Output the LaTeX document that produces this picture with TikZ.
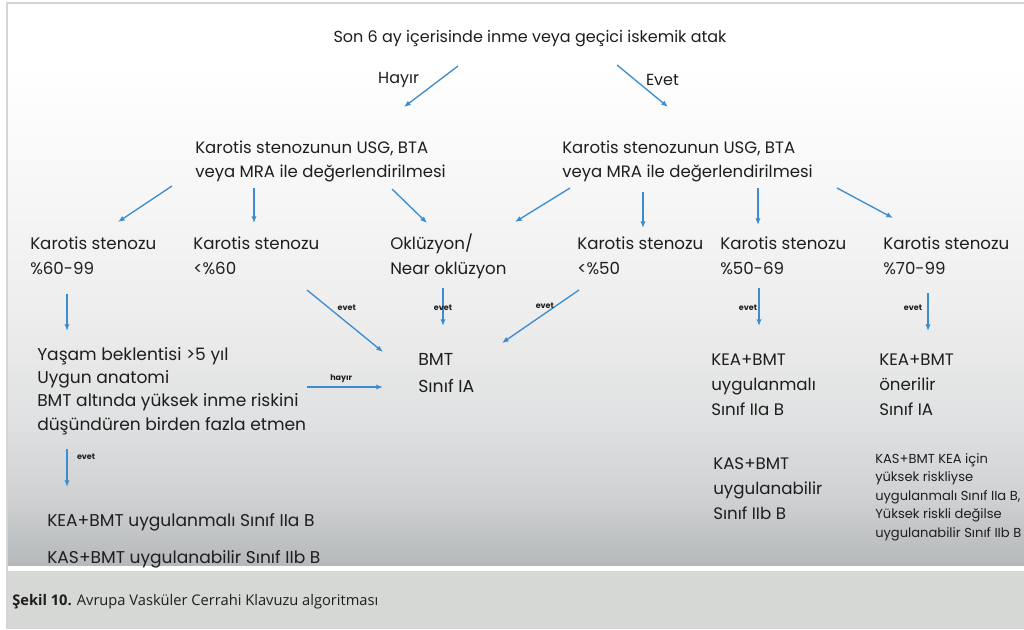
\documentclass[tikz,border=0pt]{standalone}
\usepackage{fontspec}
\setmainfont{Poppins}
\newfontfamily\capfont{Open Sans}
\usetikzlibrary{arrows.meta,calc}

\definecolor{arrowblue}{RGB}{60,141,208}
\definecolor{inkblack}{RGB}{30,30,30}
\definecolor{framegray}{RGB}{212,212,212}
\definecolor{capgray}{RGB}{214,216,213}
\definecolor{bgbot}{RGB}{181,185,187}
\definecolor{bglow}{RGB}{207,209,210}
\definecolor{bgmid}{RGB}{224,225,226}
\definecolor{bgpale}{RGB}{238,238,238}
\definecolor{bgtop}{RGB}{248,248,248}

\pgfdeclareverticalshading{pagefade}{100bp}{color(0bp)=(bgbot); color(25bp)=(bgbot);
  color(31bp)=(bglow); color(38bp)=(bgmid); color(48bp)=(bgpale);
  color(60bp)=(bgtop); color(70bp)=(white); color(100bp)=(white)}

\begin{document}
\begin{tikzpicture}[x=0.75pt,y=-0.75pt,
    txt/.style={inner sep=0pt,anchor=base west,align=left,text=inkblack},
    arr/.style={draw=arrowblue,line width=1pt,-{Latex[length=5pt,width=4pt]}},
    tag/.style={inner sep=0pt,text=inkblack,font=\fontsize{6}{7}\selectfont\bfseries}]
    \useasboundingbox (0,0) rectangle (1024,629);

    % Background
    \fill[white] (0,0) rectangle (1024,629);
    \shade[shading=pagefade] (8,4) rectangle (1024,565);
    \fill[capgray] (8,571) rectangle (1024,629);
    \draw[framegray,line width=1pt] (7,629) -- (7,3) -- (1024,3);

    % Question (nodes sit on the baseline of their last line)
    \node[txt,anchor=base,font=\fontsize{12}{14}\selectfont] (title) at (530,42)
        {Son 6 ay içerisinde inme veya geçici iskemik atak};

    % Imaging
    \node[txt,font=\fontsize{12.4}{18}\selectfont] (evalL) at (195,177)
        {Karotis stenozunun USG, BTA\\veya MRA ile değerlendirilmesi};
    \node[txt,font=\fontsize{12.4}{18}\selectfont] (evalR) at (562,177)
        {Karotis stenozunun USG, BTA\\veya MRA ile değerlendirilmesi};

    % Stenosis grades
    \node[txt,font=\fontsize{12.5}{18.75}\selectfont] (s6099) at (30,274) {Karotis stenozu\\\%60-99};
    \node[txt,font=\fontsize{12.5}{18.75}\selectfont] (s60) at (193,274) {Karotis stenozu\\<\%60};
    \node[txt,font=\fontsize{12.5}{18.75}\selectfont] (okl) at (390,274) {Oklüzyon/\\Near oklüzyon};
    \node[txt,font=\fontsize{12.5}{18.75}\selectfont] (s50) at (577,274) {Karotis stenozu\\<\%50};
    \node[txt,font=\fontsize{12.5}{18.75}\selectfont] (s5069) at (720,274) {Karotis stenozu\\\%50-69};
    \node[txt,font=\fontsize{12.5}{18.75}\selectfont] (s7099) at (883,274) {Karotis stenozu\\\%70-99};

    % Decisions
    \node[txt,font=\fontsize{12.8}{17.5}\selectfont] (crit) at (37,430)
        {Yaşam beklentisi >5 yıl\\Uygun anatomi\\BMT altında yüksek inme riskini\\düşündüren birden fazla etmen};
    \node[txt,font=\fontsize{13}{20}\selectfont] (bmt) at (418,392) {BMT\\Sınıf IA};
    \node[txt,font=\fontsize{12.8}{14}\selectfont] (kea1) at (47,526) {KEA+BMT uygulanmalı Sınıf IIa B};
    \node[txt,font=\fontsize{12.8}{14}\selectfont] (kas1) at (47,563) {KAS+BMT uygulanabilir Sınıf IIb B};
    \node[txt,font=\fontsize{12.5}{18.75}\selectfont] (keaR) at (711,415) {KEA+BMT\\uygulanmalı\\Sınıf IIa B};
    \node[txt,font=\fontsize{12.5}{18.5}\selectfont] (kasR) at (713,519) {KAS+BMT\\uygulanabilir\\Sınıf IIb B};
    \node[txt,font=\fontsize{12.5}{18.75}\selectfont] (keaR2) at (879,415) {KEA+BMT\\önerilir\\Sınıf IA};
    \node[txt,font=\fontsize{9.8}{13.8}\selectfont] (riskR) at (875,537)
        {KAS+BMT KEA için\\yüksek riskliyse\\uygulanmalı Sınıf IIa B,\\Yüksek riskli değilse\\uygulanabilir Sınıf IIb B};

    % Arrows
    \draw[arr] ($(title.base)+(-72,24)$) -- ($(evalL.base west)+(209,-70)$)
        node[pos=.34,left=15pt,inner sep=0pt,text=inkblack,font=\fontsize{12}{14}\selectfont] (hayir) {Hayır};
    \draw[arr] ($(title.base)+(87,23)$) -- ($(evalR.base west)+(106,-70)$)
        node[pos=.36,right=7.5pt,inner sep=0pt,text=inkblack,font=\fontsize{12}{14}\selectfont] (evet) {Evet};
    \draw[arr] ($(evalL.base west)+(-23,9)$) -- ($(s6099.base west)+(88,-52)$);
    \draw[arr] ($(evalL.base west)+(59,11)$) -- ($(s60.base west)+(61,-51)$);
    \draw[arr] ($(evalL.base west)+(197,12)$) -- ($(okl.base west)+(37,-51)$);
    \draw[arr] ($(evalR.base west)+(8,11)$) -- ($(okl.base west)+(125,-52)$);
    \draw[arr] ($(evalR.base west)+(81,15)$) -- ($(s50.base west)+(66,-46)$);
    \draw[arr] ($(evalR.base west)+(196,11)$) -- ($(s5069.base west)+(38,-49)$);
    \draw[arr] ($(evalR.base west)+(275,11)$) -- ($(s7099.base west)+(10,-56)$);
    \draw[arr] ($(s6099.base west)+(37,20)$) -- ($(crit.base west)+(30,-99)$);
    \draw[arr] ($(s60.base west)+(114,16)$) -- ($(bmt.base west)+(-35,-40)$)
        node[tag,pos=.29,right=6pt] {evet};
    \draw[arr] ($(okl.base west)+(53,14)$) -- ($(bmt.base west)+(25,-66)$)
        node[tag,pos=.53] {evet};
    \draw[arr] ($(s50.base west)+(2,16)$) -- ($(bmt.base west)+(84,-49)$)
        node[tag,pos=.3,left=1pt] {evet};
    \draw[arr] ($(s5069.base west)+(39,14)$) -- ($(keaR.base west)+(48,-89)$)
        node[tag,pos=.53,left=1pt] {evet};
    \draw[arr] ($(s7099.base west)+(45,19)$) -- ($(keaR2.base west)+(49,-84)$)
        node[tag,pos=.4,left=4pt] {evet};
    \draw[arr] ($(crit.base west)+(270,-43)$) -- ($(bmt.base west)+(-35,-5)$)
        node[tag,pos=.45,above=3pt] {hayır};
    \draw[arr] ($(crit.base west)+(30,19)$) -- ($(kea1.base west)+(20,-39)$)
        node[tag,pos=.2,right=7pt] {evet};

    % Caption
    \node[inner sep=0pt,anchor=base west,text=inkblack,font=\capfont\fontsize{11}{13}\selectfont] (caption) at (12,605)
        {\textbf{Şekil 10.} Avrupa Vasküler Cerrahi Klavuzu algoritması};

\end{tikzpicture}
\end{document}
